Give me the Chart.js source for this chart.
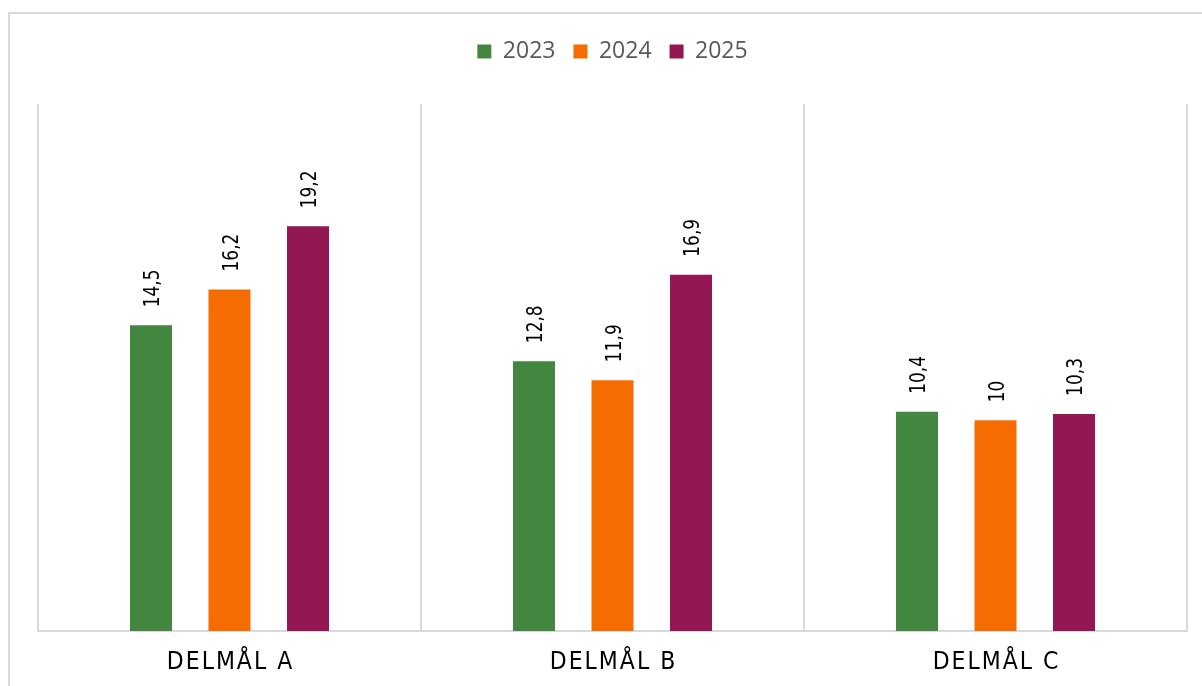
<!DOCTYPE html>
<html>
<head>
<meta charset="utf-8">
<script src="https://cdn.jsdelivr.net/npm/chart.js@4"></script>
<style>
  body { margin: 0; background: #fff; }
  #ramme {
    position: absolute; left: 8px; top: 12px; width: 1400px; height: 900px;
    border-left: 2px solid #d9d9d9; border-top: 2px solid #d9d9d9;
  }
  #wrap { position: absolute; left: 0; top: 0; width: 1202px; height: 686px; }
</style>
</head>
<body>
<div id="ramme"></div>
<div id="wrap"><canvas id="graf"></canvas></div>
<script>
// Kategorier og verdier
const kategorier = ['DELMÅL A', 'DELMÅL B', 'DELMÅL C'];
const aar = ['2023', '2024', '2025'];
const verdier2023 = [14.5, 12.8, 10.4];
const verdier2024 = [16.2, 11.9, 10];
const verdier2025 = [19.2, 16.9, 10.3];
const farger = ['#43863f', '#f56d00', '#931751'];

// etiketter over søylene, rotert
const verdiEtiketter = {
    id: 'verdiEtiketter',
    afterDatasetsDraw(chart) {
        const ctx = chart.ctx;
        chart.data.datasets.forEach((ds, i) => {
            chart.getDatasetMeta(i).data.forEach((bar, j) => {
                ctx.save();
                ctx.translate(bar.x + 3, bar.y - 18);
                ctx.rotate(-Math.PI / 2);
                ctx.scale(1, 1.22); // litt bredere glyfer, som i originalen
                ctx.font = '17px "DejaVu Sans"';
                ctx.fillStyle = '#000';
                ctx.textAlign = 'left';
                ctx.textBaseline = 'middle';
                ctx.fillText(String(ds.data[j]).replace('.', ','), 0, 0);
                ctx.restore();
            });
        });
    }
};

// kategorinavn med sperret skrift
const kategoriNavn = {
    id: 'kategoriNavn',
    afterDraw(chart) {
        const ctx = chart.ctx;
        const x = chart.scales.x;
        ctx.save();
        ctx.font = '22px "DejaVu Sans"';
        ctx.letterSpacing = '2px';
        ctx.fillStyle = '#000';
        ctx.textAlign = 'center';
        ctx.textBaseline = 'middle';
        chart.data.labels.forEach((lbl, i) => {
            ctx.save();
            ctx.translate(x.getPixelForValue(i) + 1, 663);
            ctx.scale(1, 1.12);
            ctx.fillText(lbl, 0, 0);
            ctx.restore();
        });
        ctx.restore();
    }
};

// ekstra luft under forklaringen
const legendLuft = {
    id: 'legendLuft',
    beforeInit(chart) {
        const fit = chart.legend.fit;
        chart.legend.fit = function () {
            fit.bind(chart.legend)();
            this.height += 31;
        };
    }
};

const ctx = document.getElementById('graf').getContext('2d');
const graf = new Chart(ctx, {
    type: 'bar',
    data: {
        labels: kategorier,
        datasets: [
            { label: aar[0], data: verdier2023, backgroundColor: farger[0] },
            { label: aar[1], data: verdier2024, backgroundColor: farger[1] },
            { label: aar[2], data: verdier2025, backgroundColor: farger[2] }
        ]
    },
    options: {
        responsive: true,
        maintainAspectRatio: false,
        animation: false,
        categoryPercentage: 0.615,
        barPercentage: 0.535,
        layout: { padding: { top: 22, left: 38, right: 15, bottom: 55 } },
        plugins: {
            legend: {
                position: 'top',
                labels: {
                    boxWidth: 14,
                    boxHeight: 14,
                    padding: 18,
                    color: '#595959',
                    font: { family: '"Open Sans"', size: 23 }
                }
            },
            tooltip: { enabled: false }
        },
        scales: {
            x: {
                grid: { color: '#d9d9d9', lineWidth: 2, drawTicks: false },
                border: { color: '#d9d9d9', width: 2 },
                ticks: { display: false }
            },
            y: {
                display: false,
                min: 0,
                max: 25
            }
        }
    },
    plugins: [verdiEtiketter, kategoriNavn, legendLuft]
});
</script>
</body>
</html>
